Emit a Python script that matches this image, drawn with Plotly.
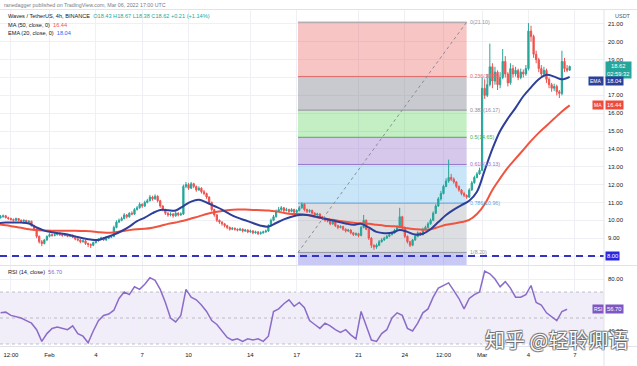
import plotly.graph_objects as go
import pandas as pd

# ---------------- data ----------------
close = [10.2, 10.25, 10.15, 10.1,
         10.05, 10.0, 10.1, 10.0, 9.95, 10.0, 9.9, 9.95,
         9.7, 9.5, 9.1, 8.8, 8.7,
         8.9, 9.1, 9.2, 9.15,
         9.2, 9.25, 9.2, 9.15, 9.2, 9.1, 9.15, 9.05,
         8.95, 8.9, 8.8, 8.85, 8.7, 8.65, 8.6,
         8.75, 8.85, 8.95, 9.0, 8.9, 9.0, 9.05, 9.1,
         9.6, 9.9, 10.0,
         10.1, 10.3, 10.2, 10.4, 10.35,
         10.6, 10.7, 10.9, 10.8, 11.0, 11.1,
         11.3, 11.2, 11.35, 11.1,
         10.8, 10.6, 10.4, 10.3,
         10.35, 10.25, 10.4, 10.3, 10.35,
         11.9, 12.0, 11.8, 12.05, 11.9, 11.7, 11.8,
         11.6, 11.5, 11.3,
         11.0, 10.6, 10.3, 10.0, 9.9,
         9.8, 9.7, 9.6, 9.5, 9.55,
         9.5, 9.45, 9.5, 9.4, 9.45, 9.35, 9.4, 9.3, 9.35, 9.25, 9.3, 9.35, 9.4,
         9.7, 10.0, 10.2,
         10.5, 10.6, 10.7, 10.55, 10.6,
         10.5, 10.6, 10.45, 10.55, 10.7,
         10.9,
         10.6, 10.5, 10.55, 10.4, 10.3, 10.35, 10.2, 10.1, 10.0,
         9.95, 9.8, 9.9, 9.7, 9.6, 9.65, 9.5, 9.4, 9.45, 9.3, 9.2, 9.25, 9.15,
         9.6, 10.0, 9.5,
         9.0, 8.6, 8.5, 8.6,
         8.8, 8.9, 9.0, 9.1, 9.2, 9.3, 9.45, 9.6,
         10.2,
         9.6, 9.1, 8.8, 8.6, 8.9,
         9.1, 9.3, 9.2, 9.5, 9.6, 9.8, 10.0,
         10.4, 10.8, 11.2, 11.5, 11.9, 12.2,
         12.4, 12.3, 12.15,
         11.9, 11.7, 11.5, 11.4, 11.3,
         11.7, 12.1, 12.4, 12.6, 12.8,
         17.4,
         17.0, 17.6, 18.6, 17.8, 18.3, 17.6,
         18.0, 18.9, 18.2, 17.7, 18.5,
         18.2, 18.4, 18.0, 18.3, 18.2, 18.5,
         20.6, 20.3, 19.3,
         19.0, 18.5, 18.2, 18.4, 17.9,
         17.6, 17.4, 17.5, 17.2, 17.1,
         18.9,
         18.5, 18.41, 18.62]
first_open = 10.15

high = [10.3, 10.32, 10.3, 10.2, 10.15, 10.1, 10.15, 10.12, 10.05, 10.05, 10.02, 10.0,
        9.98, 9.75, 9.55, 9.15, 8.9, 8.95, 9.15, 9.28, 9.25, 9.28, 9.32, 9.3, 9.25, 9.26, 9.24, 9.2, 9.2,
        9.1, 9.0, 8.95, 8.92, 8.9, 8.75, 8.7, 8.8, 8.9, 9.0, 9.08, 9.05, 9.05, 9.1, 9.15,
        9.7, 10.0, 10.1, 10.2, 10.4, 10.35, 10.45, 10.5, 10.68, 10.8, 11.0, 10.95, 11.1, 11.2,
        11.42, 11.38, 11.45, 11.4, 11.15, 10.85, 10.65, 10.45, 10.45, 10.4, 10.48, 10.45, 10.45,
        12.0, 12.15, 12.1, 12.15, 12.1, 11.95, 11.9, 11.85, 11.7, 11.55, 11.35, 11.05, 10.65, 10.35, 10.05,
        9.95, 9.85, 9.75, 9.65, 9.62, 9.6, 9.55, 9.58, 9.55, 9.52, 9.5, 9.48, 9.45, 9.42, 9.4, 9.38, 9.42, 9.48,
        9.78, 10.1, 10.3, 10.6, 10.75, 10.8, 10.75, 10.7, 10.65, 10.68, 10.65, 10.62, 10.8,
        11.0, 10.95, 10.65, 10.62, 10.6, 10.45, 10.42, 10.4, 10.25, 10.15,
        10.05, 10.0, 9.98, 9.95, 9.75, 9.72, 9.7, 9.55, 9.52, 9.5, 9.35, 9.32, 9.3,
        9.7, 10.3, 10.05, 9.55, 9.05, 8.65, 8.7, 8.9, 9.0, 9.08, 9.18, 9.28, 9.38, 9.52, 9.7,
        10.7, 10.25, 9.65, 9.15, 8.85, 8.95, 9.18, 9.38, 9.35, 9.58, 9.7, 9.9, 10.1,
        10.5, 10.9, 11.3, 11.65, 12.0, 12.35, 13.4, 12.6, 12.4, 12.2, 11.95, 11.75, 11.6, 11.45,
        11.8, 12.2, 12.5, 12.7, 12.95, 18.0, 17.9, 18.2, 19.9, 18.8, 18.6, 18.4,
        18.3, 19.6, 19.2, 18.3, 18.8, 18.7, 18.6, 18.5, 18.5, 18.45, 18.7,
        21.05, 20.9, 20.4, 19.5, 19.1, 18.7, 18.6, 18.5, 18.0, 17.7, 17.65, 17.6, 17.3, 19.5, 19.1, 18.7, 18.67]

low = [10.1, 10.15, 10.1, 10.02, 9.98, 9.93, 9.95, 9.95, 9.9, 9.9, 9.85, 9.85,
       9.65, 9.4, 9.0, 8.7, 8.55, 8.65, 8.85, 9.05, 9.08, 9.1, 9.15, 9.12, 9.08, 9.1, 9.05, 9.05, 9.0,
       8.88, 8.82, 8.72, 8.75, 8.62, 8.5, 8.45, 8.55, 8.7, 8.8, 8.9, 8.85, 8.85, 8.95, 9.0,
       9.05, 9.55, 9.85, 9.95, 10.05, 10.1, 10.15, 10.28, 10.3, 10.55, 10.65, 10.7, 10.75, 10.95,
       11.05, 11.1, 11.15, 11.0, 10.7, 10.5, 10.3, 10.2, 10.22, 10.15, 10.2, 10.22, 10.25,
       10.3, 11.8, 11.7, 11.75, 11.8, 11.6, 11.65, 11.5, 11.4, 11.2, 10.9, 10.5, 10.2, 9.9, 9.8,
       9.7, 9.6, 9.5, 9.42, 9.45, 9.42, 9.38, 9.4, 9.32, 9.35, 9.28, 9.3, 9.22, 9.25, 9.18, 9.2, 9.25, 9.3,
       9.35, 9.65, 9.95, 10.15, 10.45, 10.5, 10.45, 10.5, 10.4, 10.45, 10.38, 10.4, 10.5,
       10.65, 10.5, 10.4, 10.42, 10.32, 10.22, 10.25, 10.12, 10.02, 9.92,
       9.88, 9.72, 9.75, 9.62, 9.5, 9.55, 9.42, 9.32, 9.35, 9.22, 9.12, 9.12, 9.05,
       9.1, 9.55, 9.45, 8.9, 8.45, 8.35, 8.4, 8.55, 8.75, 8.85, 8.95, 9.05, 9.15, 9.25, 9.4,
       9.55, 9.5, 9.0, 8.7, 8.5, 8.55, 8.85, 9.05, 9.12, 9.15, 9.45, 9.55, 9.75,
       9.95, 10.35, 10.75, 11.1, 11.45, 11.85, 12.1, 12.2, 12.05, 11.8, 11.6, 11.4, 11.3, 11.2,
       11.25, 11.65, 12.05, 12.35, 12.55, 12.75, 16.8, 16.9, 17.5, 17.4, 17.6, 17.3,
       17.4, 17.9, 18.0, 17.5, 17.6, 18.0, 18.05, 17.85, 17.9, 18.0, 18.1,
       18.4, 20.0, 19.1, 18.8, 18.3, 18.0, 18.05, 17.7, 17.4, 17.2, 17.25, 17.0, 16.85, 17.0, 18.3, 18.3, 18.38]

ma50 = [9.78, 9.72, 9.65, 9.58, 9.5, 9.45, 9.43, 9.42, 9.42, 9.42,
        9.42, 9.4, 9.38, 9.33, 9.3, 9.32, 9.38, 9.45, 9.5, 9.52,
        9.58, 9.68, 9.8, 9.88, 9.97, 10.1, 10.22, 10.35, 10.45, 10.52,
        10.58, 10.6, 10.6, 10.58, 10.57, 10.55, 10.5, 10.42, 10.36, 10.35,
        10.3, 10.2, 10.12, 10.05, 9.98, 9.92, 9.87, 9.83, 9.8, 9.75,
        9.7, 9.67, 9.63, 9.55, 9.5, 9.47, 9.5, 9.62, 9.75, 9.82,
        9.9, 10.02, 10.35, 10.9, 11.7, 12.35, 12.95, 13.45, 13.95, 14.45,
        14.9, 15.3, 15.7, 16.1, 16.44]
ema20 = [9.85, 9.87, 9.88, 9.87, 9.82, 9.6, 9.42, 9.33, 9.27, 9.2,
         9.1, 9.0, 8.92, 8.9, 9.05, 9.2, 9.4, 9.65, 9.95, 10.15,
         10.4, 10.58, 10.57, 10.55, 10.8, 11.05, 11.15, 11.0, 10.8, 10.6,
         10.35, 10.15, 10.0, 9.85, 9.7, 9.65, 9.85, 10.05, 10.2, 10.3,
         10.3, 10.22, 10.12, 10.02, 9.92, 9.82, 9.75, 9.8, 9.6, 9.35,
         9.28, 9.3, 9.45, 9.35, 9.2, 9.25, 9.5, 9.9, 10.3, 10.6,
         10.85, 11.1, 11.6, 12.8, 14.0, 15.0, 15.7, 16.3, 16.95, 17.45,
         17.9, 18.15, 18.05, 17.9, 18.04]

# RSI(14), sampled every 8h
rsi = [54, 54.5, 52, 51, 50, 48, 46, 41, 32, 38,
       42, 43, 42, 41, 44, 38, 36, 31, 40, 48,
       52, 53, 56, 65, 70, 68, 74, 72, 76, 81,
       79, 72, 62, 50, 47, 52, 72, 66, 64, 60,
       55, 48, 45, 40, 35, 33, 34, 32, 34, 33,
       34, 32, 36, 55, 57, 61, 64, 59, 62, 58,
       48, 45, 42, 46, 44, 41, 39, 41, 37, 34,
       55, 44, 33, 32, 38, 41, 50, 54, 52, 42,
       40, 46, 54, 57, 66, 73, 75, 77, 71, 65,
       57, 65, 68, 70, 86, 84, 80, 74, 78, 73,
       66, 66, 68, 75, 62, 60, 54, 51, 48, 55,
       56.7]

fib_ratios = [0, 0.236, 0.382, 0.5, 0.618, 0.786, 1]
fib_prices = [21.10, 18.06, 16.17, 14.65, 13.13, 10.96, 8.20]
fib_start, fib_end = "2022-02-17 02:00", "2022-02-28 00:00"
support_level = 8.00

price_ticks = [8, 9, 10, 11, 12, 13, 14, 15, 16, 17, 18, 19, 20, 21]
price_hidden = [8, 18]
rsi_ticks = [40, 60, 80]
rsi_hidden = [60]
rsi_levels = [70, 50, 30]

tick_dates = ["2022-01-29 12:00", "2022-02-01", "2022-02-04", "2022-02-07", "2022-02-10",
              "2022-02-14", "2022-02-17", "2022-02-21", "2022-02-24", "2022-02-26 12:00",
              "2022-03-01", "2022-03-04", "2022-03-07"]
tick_text = ["12:00", "Feb", "4", "7", "10", "14", "17", "21", "24", "12:00", "Mar", "4", "7"]

last_open, last_high, last_low, last_close = 18.43, 18.67, 18.38, 18.62
last_change, last_change_pct = 0.21, 1.14
last_ma, last_ema, last_rsi = 16.44, 18.04, 56.70

# ---------------- geometry / style ----------------
W, H = 637, 366
PW = 604
UP, DN = "#26a69a", "#ef5350"
MA_C, EMA_C, RSI_C = "#f0533f", "#2e3f99", "#8a6cc8"
FONT = "Liberation Sans, Arial, sans-serif"


def xp(px):
    return px / PW


def yp(py):
    return 1 - py / H


opens = [first_open] + close[:-1]
bar_time = pd.date_range("2022-01-28 20:00", periods=len(close), freq="4h")
ma_time = pd.date_range("2022-01-28 16:00", periods=len(ma50), freq="12h")
rsi_time = pd.date_range("2022-01-28 20:00", periods=len(rsi), freq="8h")

feb1 = pd.Timestamp("2022-02-01")
px_per_day = 15.45
x_left = feb1 - pd.Timedelta(days=49.5 / px_per_day)
x_right = x_left + pd.Timedelta(days=PW / px_per_day)

fig = go.Figure()
fig.add_trace(go.Candlestick(
    x=bar_time, open=opens, high=high, low=low, close=close,
    increasing=dict(line=dict(color=UP, width=1), fillcolor=UP),
    decreasing=dict(line=dict(color=DN, width=1), fillcolor=DN),
    whiskerwidth=0, xaxis="x", yaxis="y", showlegend=False, hoverinfo="skip"))
fig.add_trace(go.Scatter(x=ma_time, y=ma50, mode="lines", line=dict(color=MA_C, width=2, shape="spline"),
                         xaxis="x", yaxis="y", showlegend=False, hoverinfo="skip"))
fig.add_trace(go.Scatter(x=ma_time, y=ema20, mode="lines", line=dict(color=EMA_C, width=2, shape="spline"),
                         xaxis="x", yaxis="y", showlegend=False, hoverinfo="skip"))
fig.add_trace(go.Scatter(x=rsi_time, y=rsi, mode="lines", line=dict(color=RSI_C, width=1.5),
                         xaxis="x", yaxis="y2", showlegend=False, hoverinfo="skip"))

price_range = [7.496, 21.782]
rsi_range = [28.46, 90.0]

shapes = []
band_fill = ["rgba(235,80,80,0.33)", "rgba(120,123,134,0.40)", "rgba(60,200,60,0.30)",
             "rgba(149,117,205,0.40)", "rgba(100,180,235,0.35)", "rgba(120,123,134,0.25)"]
level_col = ["#9598a1", "#e06a6a", "#8f9096", "#4caf50", "#9575cd", "#5aa6e0", "#9598a1"]
for j in range(len(fib_prices) - 1):
    shapes.append(dict(type="rect", xref="x", yref="y", x0=fib_start, x1=fib_end,
                       y0=fib_prices[j + 1], y1=fib_prices[j], fillcolor=band_fill[j],
                       line=dict(width=0), layer="between"))
shapes.append(dict(type="rect", xref="x", yref="y", x0=fib_start, x1=fib_end,
                   y0=price_range[0], y1=fib_prices[-1], fillcolor="rgba(100,100,230,0.35)",
                   line=dict(width=0), layer="between"))
for p, c in zip(fib_prices, level_col):
    shapes.append(dict(type="line", xref="x", yref="y", x0=fib_start, x1=fib_end, y0=p, y1=p,
                       line=dict(color=c, width=1), layer="between"))
shapes.append(dict(type="line", xref="x", yref="y", x0=fib_start, x1=fib_end,
                   y0=fib_prices[-1], y1=fib_prices[0],
                   line=dict(color="#8a8d96", width=1, dash="dot"), layer="above"))
shapes.append(dict(type="line", xref="paper", yref="y", x0=0, x1=1, y0=support_level, y1=support_level,
                   line=dict(color="#3434c4", width=2, dash="7px,5px"), layer="above"))
shapes.append(dict(type="rect", xref="paper", yref="y2", x0=0, x1=1, y0=rsi_levels[-1], y1=rsi_levels[0],
                   fillcolor="rgba(126,87,194,0.10)", line=dict(width=0), layer="below"))
for lv in rsi_levels:
    shapes.append(dict(type="line", xref="paper", yref="y2", x0=0, x1=1, y0=lv, y1=lv,
                       line=dict(color="rgba(120,123,134,0.45)", width=1, dash="3px,3px"), layer="below"))
for py in [9.5, 265.5, 346.5]:
    shapes.append(dict(type="line", xref="paper", yref="paper", x0=0, x1=W / PW, y0=yp(py), y1=yp(py),
                       line=dict(color="#e0e3eb", width=1)))
shapes.append(dict(type="line", xref="paper", yref="paper", x0=1, x1=1, y0=yp(366), y1=yp(9.5),
                   line=dict(color="#e0e3eb", width=1)))

ann = []
small = dict(family=FONT, size=5.6, color="#131722")
ann.append(dict(text="ranedagger published on TradingView.com, Mar 06, 2022 17:00 UTC",
                x=xp(2), y=yp(5), xref="paper", yref="paper", xanchor="left", yanchor="middle",
                showarrow=False, font=dict(family=FONT, size=5.3, color="#787b86")))
ann.append(dict(text=("Waves / TetherUS, 4h, BINANCE  <span style='color:%s'>O%.2f H%.2f L%.2f C%.2f "
                      "+%.2f (+%.2f%%)</span>" % (UP, last_open, last_high, last_low, last_close,
                                                   last_change, last_change_pct)),
                x=xp(6), y=yp(16.5), xref="paper", yref="paper", xanchor="left", yanchor="middle",
                showarrow=False, font=small))
ann.append(dict(text="MA (50, close, 0)  <span style='color:%s'>%.2f</span>" % (DN, last_ma),
                x=xp(6), y=yp(24.5), xref="paper", yref="paper", xanchor="left", yanchor="middle",
                showarrow=False, font=small))
ann.append(dict(text="EMA (20, close, 0)  <span style='color:#2962ff'>%.2f</span>" % last_ema,
                x=xp(6), y=yp(32.5), xref="paper", yref="paper", xanchor="left", yanchor="middle",
                showarrow=False, font=small))
ann.append(dict(text="RSI (14, close)  <span style='color:%s'>%.2f</span>" % (RSI_C, last_rsi),
                x=xp(6), y=yp(272), xref="paper", yref="paper", xanchor="left", yanchor="middle",
                showarrow=False, font=small))
for r, p, c in zip(fib_ratios, fib_prices, level_col):
    ann.append(dict(text="%s(%.2f)" % (("%g" % r), p), x=fib_end, y=p, xref="x", yref="y",
                    xanchor="left", yanchor="middle", xshift=1, showarrow=False,
                    font=dict(family=FONT, size=5.3, color=c)))


def badge(text, y, yref, bg, yshift=0, left=False, size=5.8):
    ann.append(dict(text=text, x=(1 - 0.5 / PW) if left else (1 + 0.5 / PW), y=y, xref="paper", yref=yref,
                    xanchor="right" if left else "left", yanchor="middle", yshift=yshift,
                    showarrow=False, bgcolor=bg, borderpad=1, align="center",
                    font=dict(family=FONT, size=size, color="white")))


badge("%.2f<br>02:59:32" % last_close, last_close, "y", UP, yshift=-4)
badge("%.2f" % last_ema, last_ema, "y", EMA_C, yshift=-4)
badge("EMA", last_ema, "y", EMA_C, yshift=-4, left=True, size=5)
badge("%.2f" % last_ma, last_ma, "y", "#f04a3a")
badge("MA", last_ma, "y", "#f04a3a", left=True, size=5)
badge("%.2f" % support_level, support_level, "y", "#2828e0")
badge("%.2f" % last_rsi, last_rsi, "y2", "#7e57c2")
badge("RSI", last_rsi, "y2", "#7e57c2", left=True, size=5)
ann.append(dict(text="USDT", x=1 + 9 / PW, y=yp(16), xref="paper", yref="paper", xanchor="left",
                yanchor="middle", showarrow=False, font=dict(family=FONT, size=5.5, color="#555")))
wm = "知乎 @轻聆卿语"
for dx, dy in [(-1, 0), (1, 0), (0, -1), (0, 1), (-1, -1), (1, 1), (-1, 1), (1, -1)]:
    ann.append(dict(text=wm, x=xp(556), y=yp(339), xref="paper", yref="paper", xanchor="center",
                    yanchor="middle", xshift=dx, yshift=dy, showarrow=False,
                    font=dict(family="Noto Sans CJK SC", size=20, color="rgba(90,90,90,0.45)")))
ann.append(dict(text=wm, x=xp(556), y=yp(339), xref="paper", yref="paper", xanchor="center",
                yanchor="middle", showarrow=False,
                font=dict(family="Noto Sans CJK SC", size=20, color="rgba(255,255,255,0.97)")))

grid = "#eef0f5"
fig.update_layout(
    width=W, height=H, margin=dict(l=0, r=W - PW, t=0, b=0),
    paper_bgcolor="white", plot_bgcolor="white", showlegend=False, hovermode=False,
    font=dict(family=FONT, size=6, color="#131722"),
    xaxis=dict(type="date", range=[x_left, x_right], anchor="y2", domain=[0, 1],
               tickvals=tick_dates, ticktext=tick_text, showgrid=True, gridcolor=grid, gridwidth=1,
               zeroline=False, showline=False, ticks="", rangeslider=dict(visible=False),
               tickfont=dict(family=FONT, size=6, color="#131722"), ticklabelstandoff=4),
    yaxis=dict(domain=[yp(265), yp(10)], range=price_range, side="right", anchor="x",
               tickvals=price_ticks,
               ticktext=["" if v in price_hidden else "%.2f" % v for v in price_ticks],
               showgrid=True, gridcolor=grid, zeroline=False, showline=False, ticks="",
               tickfont=dict(family=FONT, size=6, color="#131722"), ticklabelstandoff=3),
    yaxis2=dict(domain=[yp(346), yp(266)], range=rsi_range, side="right", anchor="x",
                tickvals=rsi_ticks,
                ticktext=["" if v in rsi_hidden else "%.2f" % v for v in rsi_ticks],
                showgrid=True, gridcolor=grid, zeroline=False, showline=False, ticks="",
                tickfont=dict(family=FONT, size=6, color="#131722"), ticklabelstandoff=3),
    shapes=shapes, annotations=ann,
)
fig.write_html("out.html", config={"displayModeBar": False, "staticPlot": True},
               post_script="document.body.style.margin='0';document.body.style.padding='0';"
                           "document.documentElement.style.overflow='hidden';")
